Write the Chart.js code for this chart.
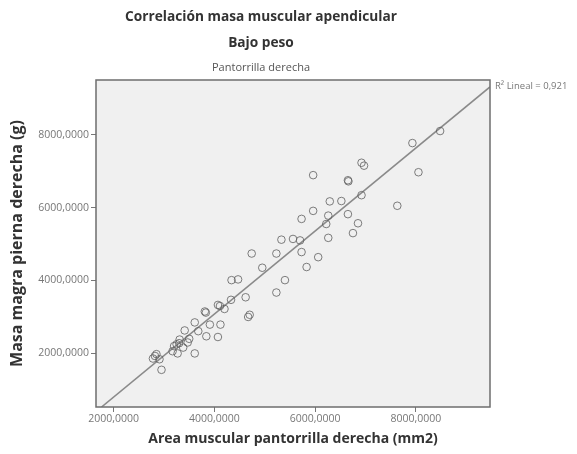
<!DOCTYPE html>
<html lang="es">
<head>
<meta charset="UTF-8">
<title>Correlación masa muscular apendicular</title>
<script src="https://cdn.jsdelivr.net/npm/chart.js"></script>
<style>
  html, body { margin: 0; padding: 0; background: #fff; }
  #caja { width: 577px; height: 454px; }
</style>
</head>
<body>
<div id="caja"><canvas id="grafico"></canvas></div>
<script>
// Datos (area muscular mm2 / masa magra g)
const areaPantorrilla = [
  8480, 7930, 6920, 6970, 8050, 5960, 6650, 6660, 6290, 6520,
  6920, 7630, 5960, 5730, 6260, 6650, 6850, 6220, 6260, 6750,
  5330, 5560, 5700, 5730, 5230, 6060, 5830, 4740, 4950, 4340,
  4470, 5400, 5230, 4620, 4330, 4110, 4200, 3810, 4700, 4070,
  3830, 4670, 3610, 3910, 4120, 3410, 3680, 3840, 4070, 3310,
  3470, 3250, 3380, 3610, 3170, 3270, 2820, 2910, 2780, 2950,
  3200, 3300, 3500, 2850
];
const masaMagra = [
  8100, 7770, 7230, 7150, 6970, 6890, 6750, 6720, 6170, 6180,
  6340, 6050, 5910, 5690, 5780, 5820, 5570, 5550, 5170, 5300,
  5120, 5140, 5100, 4780, 4740, 4640, 4370, 4740, 4350, 4010,
  4030, 4010, 3670, 3540, 3470, 3300, 3220, 3150, 3060, 3330,
  3120, 3000, 2850, 2790, 2790, 2630, 2610, 2470, 2450, 2380,
  2300, 2250, 2160, 2000, 2060, 2000, 1930, 1840, 1860, 1550,
  2200, 2280, 2400, 1980
];
const ticksX = [2000, 4000, 6000, 8000];
const ticksY = [2000, 4000, 6000, 8000];
const rangoX = [1650, 9470];
const rangoY = [530, 9500];
// recta de ajuste
const pendiente = 1.139;
const intercepto = -1474;
const r2Texto = 'R² Lineal = 0,921';

const puntos = areaPantorrilla.map((x, i) => ({ x: x, y: masaMagra[i] }));
const xIni = (rangoY[0] - intercepto) / pendiente;
const recta = [
  { x: xIni, y: rangoY[0] },
  { x: rangoX[1], y: intercepto + pendiente * rangoX[1] }
];

const fuente = "'Open Sans', 'DejaVu Sans', sans-serif";

function formato(v) {
  return v.toFixed(4).replace('.', ',');
}

// fondo, marco y textos tipo SPSS
const marco = {
  id: 'marco',
  beforeDatasetsDraw(chart) {
    const a = chart.chartArea, ctx = chart.ctx;
    ctx.save();
    ctx.fillStyle = '#f0f0f0';
    ctx.fillRect(a.left, a.top, a.right - a.left, a.bottom - a.top);
    ctx.restore();
  },
  afterDraw(chart) {
    const a = chart.chartArea, ctx = chart.ctx;
    ctx.save();
    ctx.strokeStyle = '#6e6e6e';
    ctx.lineWidth = 1.5;
    ctx.strokeRect(a.left, a.top, a.right - a.left, a.bottom - a.top);

    ctx.fillStyle = '#333';
    ctx.textAlign = 'center';
    ctx.textBaseline = 'middle';
    ctx.font = 'bold 13.7px ' + fuente;
    ctx.fillText('Correlación masa muscular apendicular', 261, 17);
    ctx.fillText('Bajo peso', 261, 43);
    ctx.font = '11px ' + fuente;
    ctx.fillStyle = '#555';
    ctx.fillText('Pantorrilla derecha', 261, 68);

    ctx.textAlign = 'left';
    ctx.font = '9.5px ' + fuente;
    ctx.fillStyle = '#777';
    ctx.fillText(r2Texto, a.right + 5, a.top + 6);
    ctx.restore();
  }
};

new Chart(document.getElementById('grafico'), {
  type: 'scatter',
  data: {
    datasets: [
      {
        label: 'Pantorrilla derecha',
        data: puntos,
        pointRadius: 3.8,
        pointBorderWidth: 1,
        pointBorderColor: 'rgba(95,95,95,0.8)',
        pointBackgroundColor: 'rgba(0,0,0,0)',
        order: 1
      },
      {
        label: 'Lineal',
        data: recta,
        showLine: true,
        pointRadius: 0,
        borderColor: '#8a8a8a',
        borderWidth: 1.6,
        order: 2
      }
    ]
  },
  options: {
    responsive: true,
    maintainAspectRatio: false,
    animation: false,
    layout: { padding: { left: 8, right: 87, top: 80, bottom: 7 } },
    plugins: {
      legend: { display: false },
      tooltip: { enabled: false }
    },
    scales: {
      x: {
        type: 'linear',
        min: rangoX[0],
        max: rangoX[1],
        afterBuildTicks(s) { s.ticks = ticksX.map(v => ({ value: v })); },
        afterFit(s) { s.height = 40; },
        grid: { drawOnChartArea: false, tickLength: 5, color: '#777' },
        border: { display: false },
        ticks: {
          callback: v => formato(v),
          font: { size: 10.5, family: fuente },
          color: '#777',
          padding: 1,
          maxRotation: 0
        },
        title: {
          display: true,
          text: 'Area muscular pantorrilla derecha (mm2)',
          font: { size: 14, weight: 'bold', family: fuente },
          color: '#333',
          padding: 0
        }
      },
      y: {
        type: 'linear',
        min: rangoY[0],
        max: rangoY[1],
        afterBuildTicks(s) { s.ticks = ticksY.map(v => ({ value: v })); },
        afterFit(s) { s.width = 88; },
        grid: { drawOnChartArea: false, tickLength: 5, color: '#777' },
        border: { display: false },
        ticks: {
          callback: v => formato(v),
          font: { size: 10.5, family: fuente },
          color: '#777',
          padding: 2
        },
        title: {
          display: true,
          text: 'Masa magra pierna derecha (g)',
          font: { size: 16, weight: 'bold', family: fuente },
          color: '#333',
          padding: 0
        }
      }
    }
  },
  plugins: [marco]
});
</script>
</body>
</html>
